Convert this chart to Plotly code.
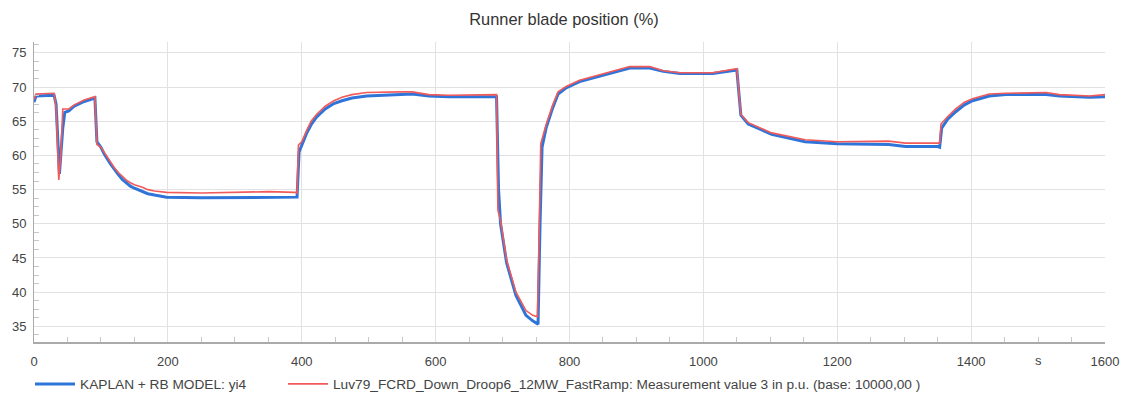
import plotly.graph_objects as go

# Simulation (model) series
t_model = [0, 3, 30, 33, 38, 43, 46, 52, 60, 75, 91, 94, 100, 105, 114, 120, 126, 132, 138, 144,
           150, 163, 170, 180, 198, 250, 300, 350, 393, 396, 400, 407, 414, 422, 435, 448, 460,
           475, 497, 547, 565, 590, 620, 691, 694, 697, 706, 720, 735, 745, 753, 756, 759, 765,
           775, 783, 795, 815, 840, 865, 890, 920, 940, 965, 1014, 1050, 1053, 1056, 1067, 1089,
           1102, 1152, 1200, 1277, 1302, 1350, 1353, 1356, 1365, 1377, 1390, 1402, 1427, 1452,
           1512, 1532, 1577, 1600]
y_model = [67.8, 68.7, 68.8, 67.5, 57.3, 64.0, 66.3, 66.5, 67.2, 67.9, 68.4, 62.0, 61.2, 60.2,
           58.8, 57.9, 57.2, 56.5, 56.0, 55.5, 55.2, 54.7, 54.4, 54.2, 53.9, 53.8, 53.8, 53.9,
           53.9, 60.5, 61.5, 63.2, 64.5, 65.6, 66.8, 67.6, 68.0, 68.4, 68.7, 68.9, 69.0, 68.7,
           68.6, 68.6, 55.0, 50.0, 44.3, 39.5, 36.6, 35.8, 35.3, 50.0, 61.2, 64.0, 67.0, 69.0,
           69.9, 70.8, 71.5, 72.2, 72.8, 72.8, 72.3, 72.0, 72.0, 72.5, 69.5, 65.9, 64.6, 63.6,
           63.1, 62.0, 61.7, 61.6, 61.3, 61.3, 61.2, 64.0, 65.3, 66.4, 67.4, 68.0, 68.7, 68.9,
           68.9, 68.7, 68.5, 68.6]

# Measurement series
t_meas = [0, 3, 30, 33, 37, 40, 43, 52, 60, 75, 91, 94, 100, 105, 114, 120, 126, 132, 138, 144,
          150, 163, 170, 180, 198, 250, 300, 350, 390, 393, 395, 400, 407, 414, 422, 435, 448,
          460, 475, 497, 547, 565, 590, 620, 691, 693, 697, 706, 720, 735, 745, 752, 754, 757,
          765, 775, 783, 795, 815, 840, 865, 890, 920, 940, 965, 1014, 1050, 1053, 1056, 1067,
          1089, 1102, 1152, 1200, 1277, 1302, 1350, 1353, 1355, 1365, 1377, 1390, 1402, 1427,
          1452, 1512, 1532, 1577, 1600]
y_meas = [68.2, 69.0, 69.1, 67.0, 56.4, 60.0, 66.8, 66.8, 67.4, 68.1, 68.6, 61.6, 61.2, 60.4,
          59.0, 58.2, 57.5, 56.9, 56.4, 56.0, 55.7, 55.3, 55.0, 54.8, 54.6, 54.5, 54.6, 54.7,
          54.6, 54.5, 61.5, 62.0, 63.6, 65.0, 66.0, 67.2, 68.0, 68.5, 68.9, 69.2, 69.3, 69.3,
          68.9, 68.8, 68.9, 52.0, 50.5, 44.7, 40.0, 37.3, 36.6, 36.4, 45.0, 61.7, 64.5, 67.4,
          69.3, 70.1, 71.0, 71.7, 72.4, 73.0, 73.0, 72.4, 72.1, 72.1, 72.7, 69.0, 66.0, 64.8,
          63.8, 63.3, 62.3, 62.0, 62.1, 61.8, 61.8, 61.8, 64.6, 65.7, 66.8, 67.8, 68.3, 69.0,
          69.1, 69.2, 68.9, 68.7, 68.9]

name_model = "KAPLAN + RB MODEL: yi4"
name_meas = "Luv79_FCRD_Down_Droop6_12MW_FastRamp: Measurement value 3 in p.u. (base: 10000,00 )"
title_text = "Runner blade position (%)"
x_unit = "s"

FONT = "Liberation Sans, Arial, sans-serif"
L, R, T, B = 34, 22, 42, 55
PW = 1127 - L - R
PH = 397 - T - B

def px_to_paper_x(px):
    return (px - L) / PW

def px_to_paper_y(py):
    return (397 - B - py) / PH

fig = go.Figure()
fig.add_trace(go.Scatter(x=t_model, y=y_model, mode="lines", name=name_model, legend="legend",
                         line=dict(color="#2f74d8", width=3)))
fig.add_trace(go.Scatter(x=t_meas, y=y_meas, mode="lines", name=name_meas, legend="legend2",
                         line=dict(color="#f25a5a", width=1.6)))

leg_common = dict(orientation="h", xanchor="left", yanchor="middle", itemwidth=40,
                  font=dict(family=FONT, size=13.7, color="#444"), bgcolor="rgba(0,0,0,0)")

fig.update_layout(
    width=1127, height=397,
    margin=dict(l=L, r=R, t=T, b=B, autoexpand=False),
    paper_bgcolor="white", plot_bgcolor="white",
    font=dict(family=FONT, size=12, color="#444"),
    title=dict(text=title_text, x=px_to_paper_x(570), xanchor="center", y=1 - 19 / 397,
               yanchor="middle", font=dict(family=FONT, size=16.4, color="#333")),
    showlegend=True,
    legend=dict(x=px_to_paper_x(30), y=px_to_paper_y(384), **leg_common),
    legend2=dict(x=px_to_paper_x(283), y=px_to_paper_y(384), **leg_common),
    xaxis=dict(range=[0, 1600], dtick=200, tick0=0, showgrid=True, gridcolor="#e2e2e2",
               gridwidth=1, zeroline=False, showline=True, linecolor="#aaaaaa", linewidth=2,
               ticks="", tickfont=dict(size=13, color="#444"), ticklabelstandoff=6,
               minor=dict(dtick=50, ticks="inside", ticklen=5, tickcolor="#c8c8c8", showgrid=False)),
    yaxis=dict(range=[32.7, 76.6], dtick=5, tick0=35, showgrid=True, gridcolor="#e2e2e2",
               gridwidth=1, zeroline=False, showline=True, linecolor="#aaaaaa", linewidth=1,
               ticks="", tickfont=dict(size=13, color="#444"), ticklabelstandoff=4,
               minor=dict(dtick=1.25, ticks="inside", ticklen=5, tickcolor="#c8c8c8", showgrid=False)),
)

fig.add_annotation(text=x_unit, xref="paper", yref="paper", x=px_to_paper_x(1038),
                   y=px_to_paper_y(360), showarrow=False,
                   font=dict(family=FONT, size=13, color="#444"),
                   xanchor="center", yanchor="middle")

fig.write_html("out.html")
